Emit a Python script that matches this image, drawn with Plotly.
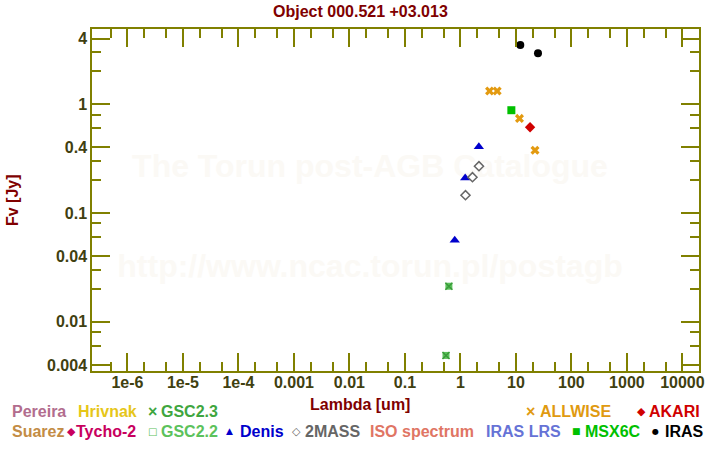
import plotly.graph_objects as go

# ---------------- data ----------------
iras_wl = [12.0, 25.0]
iras_fv = [3.49, 2.94]

allwise_wl = [3.35, 4.6, 11.6, 22.1]
allwise_fv = [1.32, 1.32, 0.74, 0.377]

msx_wl = [8.28]
msx_fv = [0.88]

akari_wl = [18.0]
akari_fv = [0.614]

denis_wl = [0.79, 1.22, 2.15]
denis_fv = [0.0561, 0.209, 0.407]

tmass_wl = [1.235, 1.65, 2.16]
tmass_fv = [0.1455, 0.213, 0.269]

gsc23_wl = [0.55, 0.62]
gsc23_fv = [0.0049, 0.0212]
gsc22_wl = [0.55, 0.62]
gsc22_fv = [0.0049, 0.0212]

x_tick_vals = [1e-6, 1e-5, 1e-4, 1e-3, 1e-2, 1e-1, 1, 10, 100, 1000, 10000]
x_tick_text = ["1e-6", "1e-5", "1e-4", "0.001", "0.01", "0.1", "1", "10", "100", "1000", "10000"]
x_minor_vals = [5e-7, 2e-6, 5e-6, 2e-5, 5e-5, 2e-4, 5e-4, 2e-3, 5e-3, 2e-2, 5e-2,
                0.2, 0.5, 2, 5, 20, 50, 200, 500, 2000, 5000]

y_tick_vals = [0.004, 0.01, 0.04, 0.1, 0.4, 1, 4]
y_tick_text = ["0.004", "0.01", "0.04", "0.1", "0.4", "1", "4"]
y_minor_vals = [0.006, 0.008, 0.02, 0.03, 0.06, 0.08, 0.2, 0.3, 0.6, 0.8, 2, 3]

title_text = "Object 000.521 +03.013"
x_title = "Lambda [um]"
y_title = "Fv [Jy]"

# legend entries: (symbol, label, colour)
legend_row1 = [("", "Pereira", "#b26d8e"), ("", "Hrivnak", "#e6c619"),
               ("×", "GSC2.3", "#3fa63f"), ("×", "ALLWISE", "#e09a10"),
               ("◆", "AKARI", "#d00000")]
legend_row2 = [("", "Suarez", "#c38c45"), ("◆", "Tycho-2", "#c8005e"),
               ("□", "GSC2.2", "#5cc25c"), ("▲", "Denis", "#0000cc"),
               ("◇", "2MASS", "#666666"), ("", "ISO spectrum", "#e07564"),
               ("", "IRAS LRS", "#6673d6"), ("■", "MSX6C", "#00c000"),
               ("●", "IRAS", "#000000")]

# ---------------- layout geometry ----------------
W, H = 720, 450
L, R, T, B = 92, 21, 29, 79
PW, PH = W - L - R, H - T - B
FONT = "Liberation Sans, Arial, sans-serif"
OLIVE = "#808000"
TICKCOL = "#404010"
DARKRED = "#800000"


def px(xp):
    return (xp - L) / PW


def py(yp):
    return (H - B - yp) / PH


fig = go.Figure()

fig.add_trace(go.Scatter(x=gsc22_wl, y=gsc22_fv, mode="markers",
                         marker=dict(symbol="square", size=7, color="#5cc25c",
                                     line=dict(width=0))))
fig.add_trace(go.Scatter(x=gsc23_wl, y=gsc23_fv, mode="markers",
                         marker=dict(symbol="x-thin", size=7,
                                     line=dict(width=1.5, color="#3a9a3a"))))
fig.add_trace(go.Scatter(x=denis_wl, y=denis_fv, mode="markers",
                         marker=dict(symbol="triangle-up", size=9, color="#0000cc")))
fig.add_trace(go.Scatter(x=tmass_wl, y=tmass_fv, mode="markers",
                         marker=dict(symbol="diamond-open", size=7, color="#666666",
                                     line=dict(width=1.5, color="#666666"))))
fig.add_trace(go.Scatter(x=allwise_wl, y=allwise_fv, mode="markers",
                         marker=dict(symbol="x", size=8, color="#e39a10",
                                     line=dict(width=0))))
fig.add_trace(go.Scatter(x=msx_wl, y=msx_fv, mode="markers",
                         marker=dict(symbol="square", size=8, color="#00c000")))
fig.add_trace(go.Scatter(x=akari_wl, y=akari_fv, mode="markers",
                         marker=dict(symbol="diamond", size=8, color="#d00000")))
fig.add_trace(go.Scatter(x=iras_wl, y=iras_fv, mode="markers",
                         marker=dict(symbol="circle", size=8, color="#000000")))

axis_common = dict(type="log", showgrid=False, zeroline=False, showline=True,
                   linecolor=OLIVE, linewidth=1.5, mirror="ticks", ticks="inside",
                   ticklen=18, tickwidth=1.5, tickcolor=OLIVE, tickmode="array",
                   automargin=False,
                   tickfont=dict(family=FONT, size=16, color=TICKCOL, weight="bold"),
                   minor=dict(ticks="inside", ticklen=9, tickwidth=1.5,
                              tickcolor=OLIVE, tickmode="array", showgrid=False))

xa = dict(axis_common)
xa.update(range=[-6.638, 4.299], tickvals=x_tick_vals, ticktext=x_tick_text,
          ticklabelstandoff=-4)
xa["minor"] = dict(axis_common["minor"], tickvals=x_minor_vals)
ya = dict(axis_common)
ya.update(range=[-2.453, 0.691], tickvals=y_tick_vals, ticktext=y_tick_text)
ya["minor"] = dict(axis_common["minor"], tickvals=y_minor_vals)

annotations = []
# title & axis titles
annotations.append(dict(text="<b>%s</b>" % title_text, x=px(360), y=py(12),
                        xref="paper", yref="paper", showarrow=False,
                        xanchor="center", yanchor="middle",
                        font=dict(family=FONT, size=16, color=DARKRED)))
annotations.append(dict(text="<b>%s</b>" % x_title, x=px(360), y=py(404),
                        xref="paper", yref="paper", showarrow=False,
                        xanchor="center", yanchor="middle",
                        font=dict(family=FONT, size=16, color=DARKRED)))
annotations.append(dict(text="<b>%s</b>" % y_title, x=px(12), y=py(200),
                        xref="paper", yref="paper", showarrow=False, textangle=-90,
                        xanchor="center", yanchor="middle",
                        font=dict(family=FONT, size=16, color=DARKRED)))

# legend (custom, two rows)
row1_pos = [(None, 11.7), (None, 78.3), (147.7, 160.7), (526, 540), (636.7, 649.3)]
row2_pos = [(None, 11.7), (66.7, 76), (147.7, 160.7), (226, 240), (291.7, 305),
            (None, 370), (None, 486), (572.3, 585), (652.3, 665)]
sym_size = {"×": 16, "◆": 11, "□": 10, "▲": 9, "◇": 11, "■": 9, "●": 8}
for row, pos, ycen in ((legend_row1, row1_pos, 411), (legend_row2, row2_pos, 431)):
    for (sym, lab, col), (sx, tx) in zip(row, pos):
        if sym:
            fam = FONT if sym == "×" else "DejaVu Sans"
            annotations.append(dict(text="<b>%s</b>" % sym if sym == "×" else sym,
                                    x=px(sx - 2), y=py(ycen), xref="paper", yref="paper",
                                    xanchor="left", yanchor="middle", showarrow=False,
                                    font=dict(family=fam, size=sym_size[sym], color=col)))
        annotations.append(dict(text="<b>%s</b>" % lab, x=px(tx - 2), y=py(ycen),
                                xref="paper", yref="paper", xanchor="left",
                                yanchor="middle", showarrow=False,
                                font=dict(family=FONT, size=16, color=col)))

shapes = []
for txt, yc in (("The Torun post-AGB Catalogue", 163), ("http://www.ncac.torun.pl/postagb", 263)):
    shapes.append(dict(type="rect", xref="paper", yref="paper",
                       x0=px(60), x1=px(680), y0=py(yc + 25), y1=py(yc - 25),
                       line=dict(width=0), fillcolor="rgba(0,0,0,0)", layer="below",
                       label=dict(text="<b>%s</b>" % txt, textposition="middle center",
                                  font=dict(family=FONT, size=32, color="#fbf9f5"))))

fig.update_layout(width=W, height=H, template="none",
                  margin=dict(l=L, r=R, t=T, b=B, pad=0),
                  paper_bgcolor="white", plot_bgcolor="white",
                  showlegend=False, xaxis=xa, yaxis=ya,
                  annotations=annotations, shapes=shapes)

fig.write_html("out.html")
